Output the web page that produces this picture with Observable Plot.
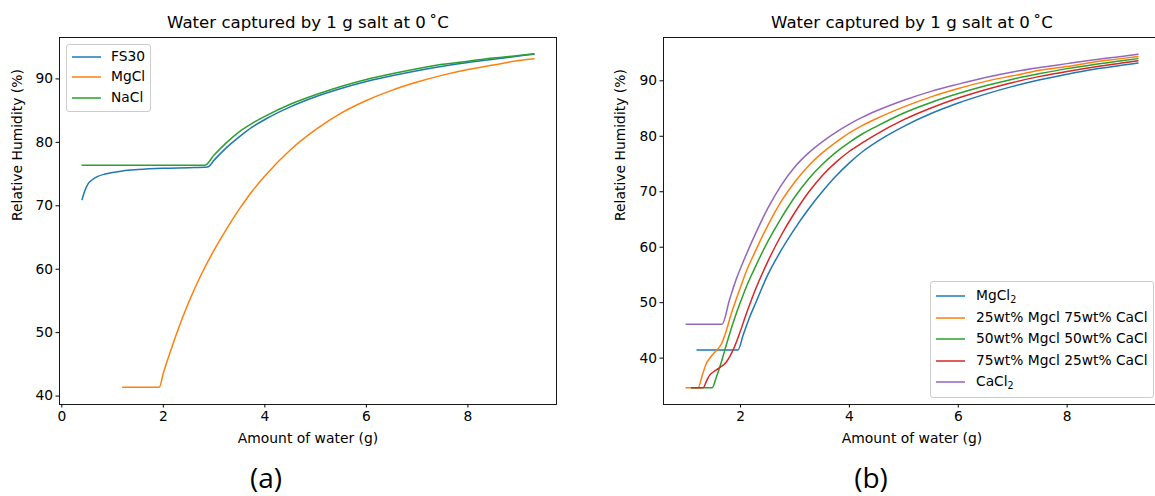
<!DOCTYPE html>
<html><head><meta charset="utf-8">
<script src="https://cdn.jsdelivr.net/npm/d3@7"></script>
<script src="https://cdn.jsdelivr.net/npm/@observablehq/plot@0.6"></script>
<style>
html,body{margin:0;padding:0;background:#fff;overflow:hidden;}
#wrap{position:relative;width:1155px;height:496px;overflow:hidden;font-family:"DejaVu Sans",sans-serif;color:#000;}
.panel{position:absolute;top:0;}
.legend{position:absolute;background:rgba(255,255,255,0.8);border:1px solid #ccc;border-radius:3px;font-size:13.8px;box-sizing:border-box;}
.legend svg{position:absolute;overflow:visible;}
.legend .tx{position:absolute;white-space:nowrap;line-height:1;transform:translateY(-50%);}
.legend sub{font-size:9.6px;vertical-align:-3px;line-height:0;}
.cap{position:absolute;font-family:"Open Sans",sans-serif;font-size:28px;line-height:1;transform:translate(-50%,-50%);}
</style></head>
<body><div id="wrap"></div>
<script>
// ---------- Panel (a) data ----------
const titleText = "Water captured by 1 g salt at 0\u2009\u02DAC";
const xLabel = "Amount of water (g)";
const yLabel = "Relative Humidity (%)";
const leftNames = ["FS30", "MgCl", "NaCl"];
const leftXTicks = [0, 2, 4, 6, 8];
const leftYTicks = [40, 50, 60, 70, 80, 90];

const fs30X = [0.4, 0.45, 0.52, 0.6, 0.7, 0.85, 1.0, 1.2, 1.5, 2.0, 2.5, 2.87, 3.0, 3.25, 3.5, 3.75, 4.0, 4.5, 5.0, 5.5, 6.0, 6.5, 7.0, 7.5, 8.0, 8.5, 9.0, 9.3];
const fs30Y = [71.0, 72.3, 73.5, 74.1, 74.6, 75.0, 75.25, 75.5, 75.7, 75.9, 76.0, 76.1, 77.2, 79.2, 80.9, 82.4, 83.6, 85.6, 87.2, 88.5, 89.6, 90.5, 91.3, 92.0, 92.6, 93.1, 93.6, 93.9];

const mgclX = [1.2, 1.92, 2.0, 2.13, 2.25, 2.5, 2.75, 3.0, 3.25, 3.5, 3.75, 4.0, 4.5, 5.0, 5.5, 6.0, 6.5, 7.0, 7.5, 8.0, 8.5, 9.0, 9.3];
const mgclY = [41.4, 41.4, 43.6, 46.8, 49.6, 54.8, 59.2, 63.0, 66.4, 69.5, 72.3, 74.7, 78.8, 82.0, 84.6, 86.6, 88.2, 89.5, 90.6, 91.5, 92.2, 92.9, 93.2];

const naclX = [0.4, 2.82, 3.0, 3.25, 3.5, 3.75, 4.0, 4.5, 5.0, 5.5, 6.0, 6.5, 7.0, 7.5, 8.0, 8.5, 9.0, 9.3];
const naclY = [76.4, 76.4, 78.0, 80.0, 81.7, 83.0, 84.1, 86.0, 87.5, 88.8, 89.9, 90.8, 91.6, 92.3, 92.8, 93.3, 93.7, 93.95];

// ---------- Panel (b) data ----------
const rightNames = ["MgCl<sub>2</sub>", "25wt% Mgcl 75wt% CaCl", "50wt% Mgcl 50wt% CaCl", "75wt% Mgcl 25wt% CaCl", "CaCl<sub>2</sub>"];
const rightXTicks = [2, 4, 6, 8];
const rightYTicks = [40, 50, 60, 70, 80, 90];

const mgcl2X = [1.2, 1.95, 2.05, 2.16, 2.28, 2.5, 2.75, 3.0, 3.25, 3.5, 3.75, 4.0, 4.25, 4.5, 5.0, 5.5, 6.0, 6.5, 7.0, 7.5, 8.0, 8.5, 9.0, 9.3];
const mgcl2Y = [41.45, 41.45, 44.2, 47.2, 50.0, 55.0, 59.5, 63.4, 66.9, 70.0, 72.8, 75.2, 77.3, 79.0, 81.8, 84.1, 86.0, 87.6, 89.0, 90.2, 91.2, 92.1, 92.8, 93.2];

const mix25X = [1.0, 1.22, 1.3, 1.37, 1.45, 1.53, 1.65, 1.74, 1.83, 1.92, 2.0, 2.1, 2.25, 2.5, 2.75, 3.0, 3.25, 3.5, 3.75, 4.0, 4.25, 4.5, 5.0, 5.5, 6.0, 6.5, 7.0, 7.5, 8.0, 8.5, 9.0, 9.3];
const mix25Y = [34.65, 34.65, 37.0, 39.0, 40.2, 41.1, 42.6, 45.0, 48.0, 50.6, 52.8, 55.5, 58.8, 63.9, 68.3, 71.8, 74.7, 77.0, 78.9, 80.6, 82.0, 83.2, 85.3, 87.1, 88.6, 89.9, 90.9, 91.9, 92.6, 93.4, 94.0, 94.4];

const mix50X = [1.1, 1.48, 1.55, 1.62, 1.71, 1.8, 1.92, 2.01, 2.1, 2.25, 2.5, 2.75, 3.0, 3.25, 3.5, 3.75, 4.0, 4.25, 4.5, 5.0, 5.5, 6.0, 6.5, 7.0, 7.5, 8.0, 8.5, 9.0, 9.3];
const mix50Y = [34.65, 34.65, 36.4, 38.4, 41.4, 44.4, 48.0, 50.4, 52.7, 56.0, 61.0, 65.3, 69.1, 72.3, 74.9, 77.1, 78.9, 80.5, 81.8, 84.2, 86.1, 87.7, 89.1, 90.3, 91.3, 92.2, 92.95, 93.6, 94.0];

const mix75X = [1.1, 1.31, 1.38, 1.43, 1.5, 1.59, 1.74, 1.86, 1.98, 2.1, 2.25, 2.5, 2.75, 3.0, 3.25, 3.5, 3.75, 4.0, 4.25, 4.5, 5.0, 5.5, 6.0, 6.5, 7.0, 7.5, 8.0, 8.5, 9.0, 9.3];
const mix75Y = [34.65, 34.65, 36.0, 36.9, 37.5, 38.1, 39.3, 41.4, 44.4, 47.8, 51.8, 57.4, 62.2, 66.3, 69.9, 72.9, 75.3, 77.3, 78.9, 80.4, 83.0, 85.1, 86.9, 88.4, 89.7, 90.8, 91.7, 92.5, 93.2, 93.6];

const cacl2X = [1.0, 1.66, 1.8, 1.92, 2.0, 2.25, 2.5, 2.75, 3.0, 3.25, 3.5, 3.75, 4.0, 4.25, 4.5, 5.0, 5.5, 6.0, 6.5, 7.0, 7.5, 8.0, 8.5, 9.0, 9.3];
const cacl2Y = [46.1, 46.1, 50.6, 54.2, 56.2, 61.9, 67.0, 71.2, 74.5, 77.0, 79.0, 80.7, 82.2, 83.5, 84.6, 86.5, 88.1, 89.4, 90.6, 91.6, 92.4, 93.1, 93.8, 94.4, 94.8];

const colors = ["#1f77b4", "#ff7f0e", "#2ca02c", "#d62728", "#9467bd"];

// ---------- helpers ----------
const pts = (xs, ys) => xs.map((x, i) => ({x, y: ys[i]}));
const wrap = document.getElementById("wrap");

function panel({left, width, mL, mR, xDomain, yDomain, xTicks, yTicks, series, yLabelDx}) {
  const marks = [];
  series.forEach(s => marks.push(Plot.line(pts(s[0], s[1]), {x: "x", y: "y", stroke: colors[s[2]], strokeWidth: 1.5, curve: "monotone-x"})));
  marks.push(Plot.frame({stroke: "#000", strokeWidth: 0.9}));
  marks.push(Plot.axisX({ticks: xTicks, tickSize: 3.5, tickPadding: 3, label: null, tickFormat: d3.format("d"), fontSize: 13.8}));
  marks.push(Plot.axisY({ticks: yTicks, tickSize: 3.5, tickPadding: 3, label: null, tickFormat: d3.format("d"), fontSize: 13.8}));
  marks.push(Plot.text([titleText], {text: d => d, frameAnchor: "top", lineAnchor: "middle", dy: -14.5, fontSize: 16.6}));
  marks.push(Plot.text([xLabel], {text: d => d, frameAnchor: "bottom", lineAnchor: "middle", dy: 34, fontSize: 13.9}));
  marks.push(Plot.text([yLabel], {text: d => d, frameAnchor: "left", lineAnchor: "middle", dx: yLabelDx, rotate: -90, fontSize: 13.9}));
  const svg = Plot.plot({
    width, height: 496,
    marginLeft: mL, marginRight: mR, marginTop: 37, marginBottom: 92,
    x: {domain: xDomain},
    y: {domain: yDomain},
    style: {fontSize: "13.8px", fontFamily: "DejaVu Sans", color: "#000", background: "transparent", overflow: "visible"},
    marks
  });
  svg.classList.add("panel");
  svg.style.left = left + "px";
  wrap.appendChild(svg);
}

function legend({left, top, width, height, names, colorIdx, rowTop, rowStep, lineL, lineW, textL}) {
  const box = document.createElement("div");
  box.className = "legend";
  Object.assign(box.style, {left: left + "px", top: top + "px", width: width + "px", height: height + "px"});
  names.forEach((n, i) => {
    const cy = rowTop + i * rowStep;
    const s = document.createElementNS("http://www.w3.org/2000/svg", "svg");
    s.setAttribute("width", lineW); s.setAttribute("height", 4);
    s.style.left = lineL + "px"; s.style.top = (cy - 2) + "px";
    const l = document.createElementNS("http://www.w3.org/2000/svg", "line");
    l.setAttribute("x1", 0); l.setAttribute("x2", lineW); l.setAttribute("y1", 2); l.setAttribute("y2", 2);
    l.setAttribute("stroke", colors[colorIdx[i]]); l.setAttribute("stroke-width", 1.5);
    s.appendChild(l);
    const tx = document.createElement("div");
    tx.className = "tx";
    tx.innerHTML = n;
    Object.assign(tx.style, {left: textL + "px", top: cy + "px"});
    box.appendChild(s); box.appendChild(tx);
  });
  wrap.appendChild(box);
}

panel({
  left: 0, width: 580, mL: 59, mR: 24,
  xDomain: [-0.045, 9.745], yDomain: [38.67, 96.53],
  xTicks: leftXTicks, yTicks: leftYTicks,
  series: [[fs30X, fs30Y, 0], [mgclX, mgclY, 1], [naclX, naclY, 2]],
  yLabelDx: -42
});
panel({
  left: 580, width: 600, mL: 83, mR: 20,
  xDomain: [0.585, 9.715], yDomain: [31.64, 97.81],
  xTicks: rightXTicks, yTicks: rightYTicks,
  series: [[mgcl2X, mgcl2Y, 0], [mix25X, mix25Y, 1], [mix50X, mix50Y, 2], [mix75X, mix75Y, 3], [cacl2X, cacl2Y, 4]],
  yLabelDx: -43
});

legend({left: 66, top: 44, width: 85, height: 68, names: leftNames, colorIdx: [0, 1, 2],
  rowTop: 11.5, rowStep: 20.8, lineL: 5, lineW: 29, textL: 44});
legend({left: 930, top: 281, width: 224, height: 117, names: rightNames, colorIdx: [0, 1, 2, 3, 4],
  rowTop: 14, rowStep: 21.6, lineL: 5, lineW: 29, textL: 45});

const capA = document.createElement("div"); capA.className = "cap"; capA.textContent = "(a)";
Object.assign(capA.style, {left: "266px", top: "477px"}); wrap.appendChild(capA);
const capB = document.createElement("div"); capB.className = "cap"; capB.textContent = "(b)";
Object.assign(capB.style, {left: "871px", top: "477px"}); wrap.appendChild(capB);
</script></body></html>
